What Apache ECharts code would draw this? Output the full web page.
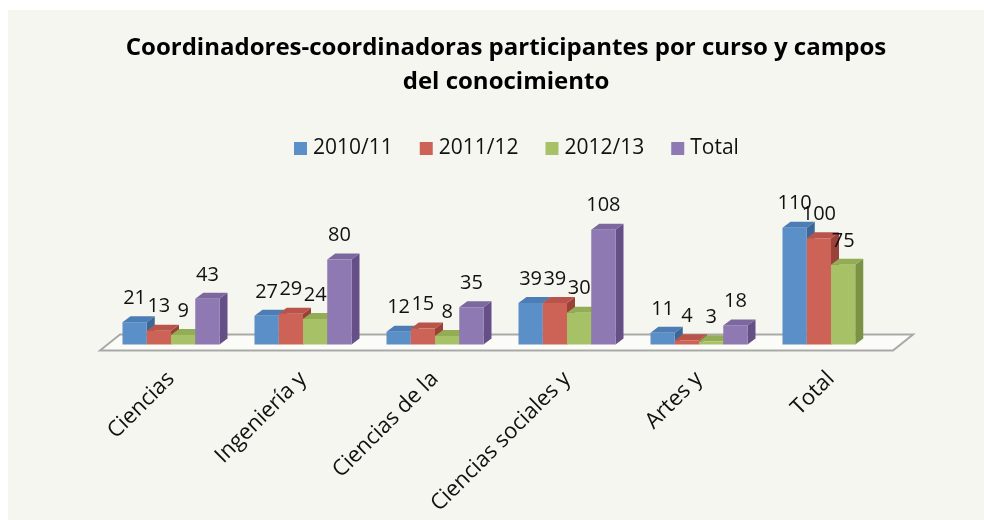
<!DOCTYPE html>
<html>
<head>
<meta charset="utf-8">
<script src="https://cdn.jsdelivr.net/npm/echarts@6/dist/echarts.min.js"></script>
<style>
  html, body { margin: 0; padding: 0; background: #fff; }
  #chart { width: 984px; height: 520px; }
</style>
</head>
<body>
<div id="chart"></div>
<script>
const categories = ['Ciencias', 'Ingeniería y', 'Ciencias de la', 'Ciencias sociales y', 'Artes y', 'Total'];
const seriesNames = ['2010/11', '2011/12', '2012/13', 'Total'];
const curso2010 = [21, 27, 12, 39, 11, 110];
const curso2011 = [13, 29, 15, 39, 4, 100];
const curso2012 = [9, 24, 8, 30, 3, 75];
const totalCampo = [43, 80, 35, 108, 18, null];

// front / top / side colours per series
const palette = [
  { front: '#5b8fc8', top: '#4c7db4', side: '#3d6797' },
  { front: '#cd6356', top: '#b9544a', side: '#9b4139' },
  { front: '#a6c166', top: '#93ad55', side: '#7a9244' },
  { front: '#8f79b2', top: '#7d679f', side: '#654f86' },
];

const FONT = 'Open Sans';
const DX = 8;  // depth offset
const DY = 6;

const chart = echarts.init(document.getElementById('chart'));

function barRenderer(idx) {
  const col = palette[idx];
  return function (params, api) {
    const v = api.value(1);
    if (v == null || isNaN(v)) return;
    const base = api.coord([api.value(0), 0]);
    const top = api.coord([api.value(0), v]);
    const band = api.size([1, 0])[0];
    const groupW = band * 0.735;
    const w = groupW / 4;
    const x = base[0] - groupW / 2 + idx * w;
    const ty = top[1];
    const by = base[1];
    const z = idx + 1;
    return {
      type: 'group',
      children: [
        {
          type: 'polygon', z2: z,
          shape: { points: [[x + w, ty], [x + w + DX, ty - DY], [x + w + DX, by - DY], [x + w, by]] },
          style: { fill: col.side },
        },
        {
          type: 'polygon', z2: z,
          shape: { points: [[x, ty], [x + DX, ty - DY], [x + w + DX, ty - DY], [x + w, ty]] },
          style: { fill: col.top },
        },
        {
          type: 'rect', z2: z,
          shape: { x: x, y: ty, width: w, height: by - ty },
          style: { fill: col.front },
        },
        {
          type: 'text', z2: 50,
          x: x + w / 2, y: ty - 24,
          style: {
            text: String(v), fontFamily: FONT, fontSize: 20, fill: '#111',
            align: 'center', verticalAlign: 'middle',
          },
        },
      ],
    };
  };
}

function floorRenderer(params, api) {
  const band = api.size([1, 0])[0];
  const first = api.coord([0, 0]);
  const last = api.coord([categories.length - 1, 0]);
  const x0 = first[0] - band / 2 - 5;
  const x1 = last[0] + band / 2 - 4;
  const fy = first[1] + 6;
  const bk = 20;
  const byk = first[1] - 10;
  return {
    type: 'group',
    children: [
      {
        type: 'polygon', z2: 0,
        shape: { points: [[x0, fy], [x0 + bk, byk], [x1 + bk, byk], [x1, fy]] },
        style: { fill: '#fbfbf7', stroke: '#a9a9a9', lineWidth: 2 },
      },
    ],
  };
}

const valueLists = [curso2010, curso2011, curso2012, totalCampo];

const series = [
  {
    type: 'custom',
    name: '_floor',
    renderItem: floorRenderer,
    data: [[0, 0]],
    silent: true,
    z: 1,
  },
];
seriesNames.forEach((name, i) => {
  series.push({
    type: 'custom',
    name: name,
    renderItem: barRenderer(i),
    itemStyle: { color: palette[i].front },
    data: valueLists[i].map((v, k) => [k, v == null ? '-' : v]),
    z: 2,
  });
});

chart.setOption({
  backgroundColor: '#ffffff',
  animation: false,
  graphic: [
    {
      type: 'rect', z: -10, silent: true,
      shape: { x: 8, y: 10, width: 976, height: 510 },
      style: { fill: '#f6f6f0' },
    },
  ],
  title: {
    text: 'Coordinadores-coordinadoras participantes por curso y campos\ndel conocimiento',
    left: 506,
    textAlign: 'center',
    top: 31,
    padding: 0,
    textStyle: {
      fontFamily: FONT, fontWeight: 'bold', fontSize: 24, lineHeight: 34, color: '#000',
    },
  },
  legend: {
    data: seriesNames,
    left: 289,
    top: 133,
    icon: 'rect',
    itemWidth: 13,
    itemHeight: 13,
    itemGap: 27,
    textStyle: { fontFamily: FONT, fontSize: 21, color: '#111', padding: [0, 0, 0, 1] },
  },
  grid: { left: 105, right: 87, top: 217, bottom: 175.5 },
  xAxis: {
    type: 'category',
    data: categories,
    axisLine: { show: false },
    axisTick: { show: false },
    axisLabel: {
      rotate: 45, margin: 31, interval: 0,
      fontFamily: FONT, fontSize: 22, color: '#111',
    },
  },
  yAxis: { type: 'value', min: 0, max: 120, show: false },
  series: series,
});
</script>
</body>
</html>
